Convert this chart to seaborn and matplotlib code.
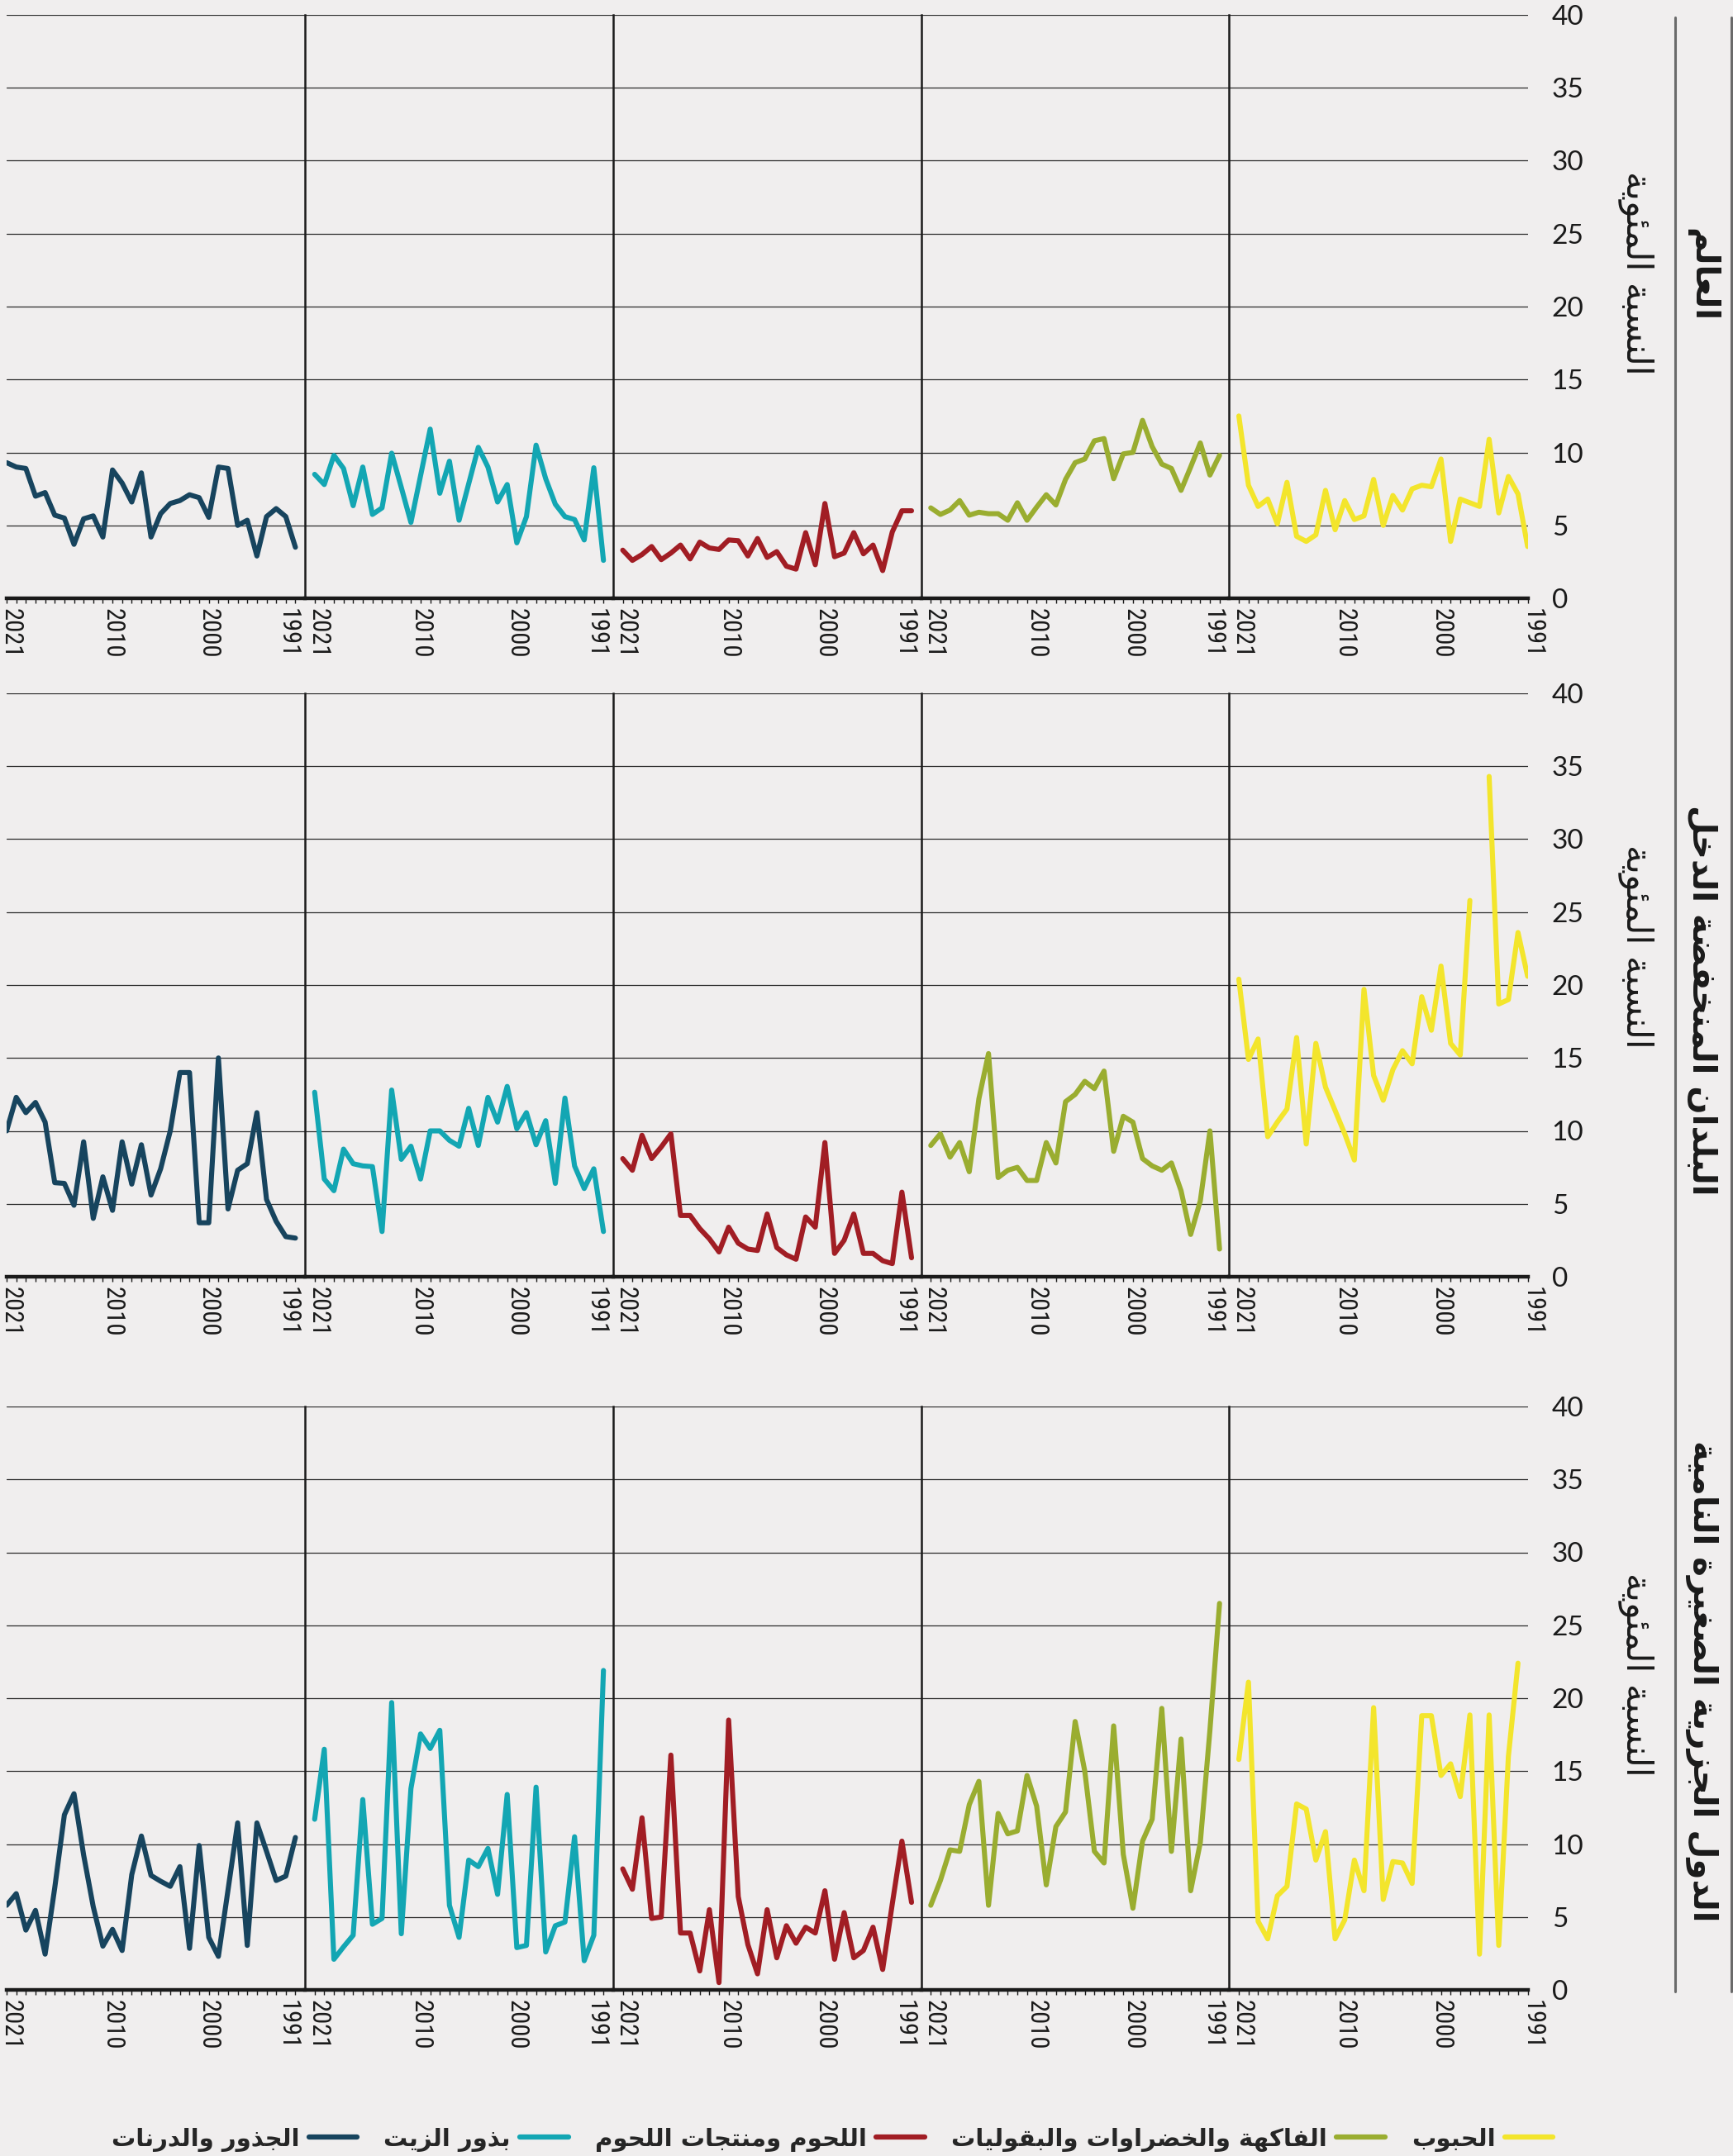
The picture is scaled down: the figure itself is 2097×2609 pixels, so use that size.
import numpy as np
import pandas as pd
import seaborn as sns
import matplotlib.pyplot as plt
from matplotlib import font_manager
from matplotlib.lines import Line2D
from matplotlib.transforms import ScaledTranslation

# years run right-to-left on every panel: 2021 ... 1991
years = list(range(2021, 1990, -1))

groups = ['الجذور والدرنات', 'بذور الزيت', 'اللحوم ومنتجات اللحوم',
          'الفاكهة والخضراوات والبقوليات', 'الحبوب']
colors = ['#17445e', '#13a6b3', '#a11d24', '#9aad30', '#f3e52c']
regions = ['العالم', 'البلدان المنخفضة الدخل', 'الدول الجزرية الصغيرة النامية']
y_label = 'النسبة المئوية'
x_ticks = [2021, 2010, 2000, 1991]
y_ticks = [0, 5, 10, 15, 20, 25, 30, 35, 40]

# World
world_roots = [9.3, 9.0, 8.9, 7.0, 7.25, 5.7, 5.5, 3.7, 5.45, 5.65, 4.2, 8.8, 7.9, 6.6, 8.6, 4.2,
               5.8, 6.5, 6.7, 7.1, 6.9, 5.55, 9.0, 8.9, 5.0, 5.35, 2.9, 5.6, 6.15, 5.6, 3.5]
world_oil = [8.5, 7.8, 9.8, 8.9, 6.35, 9.0, 5.75, 6.2, 9.95, 7.6, 5.2, 8.4, 11.6, 7.2, 9.4, 5.35,
             7.85, 10.35, 9.0, 6.6, 7.8, 3.8, 5.6, 10.5, 8.2, 6.45, 5.6, 5.4, 4.0, 8.95, 2.6]
world_meat = [3.3, 2.6, 3.0, 3.55, 2.65, 3.1, 3.65, 2.7, 3.85, 3.45, 3.35, 4.0, 3.95, 2.9, 4.1, 2.8,
              3.2, 2.2, 2.0, 4.5, 2.3, 6.5, 2.85, 3.1, 4.5, 3.05, 3.65, 1.9, 4.55, 6.0, 6.0]
world_fruit = [6.2, 5.75, 6.05, 6.7, 5.7, 5.9, 5.8, 5.8, 5.35, 6.55, 5.35, 6.25, 7.1, 6.4, 8.15, 9.3,
               9.55, 10.8, 10.95, 8.2, 9.9, 10.0, 12.2, 10.4, 9.2, 8.9, 7.4, 9.0, 10.65, 8.45, 9.8]
world_cereal = [12.5, 7.75, 6.3, 6.8, 5.1, 7.95, 4.25, 3.9, 4.35, 7.4, 4.7, 6.7, 5.4, 5.65, 8.15, 5.0,
                7.05, 6.05, 7.5, 7.75, 7.65, 9.55, 3.9, 6.8, 6.55, 6.3, 10.9, 5.85, 8.35, 7.15, 3.55]

# Low-income countries
lic_roots = [10.0, 12.3, 11.25, 11.95, 10.6, 6.45, 6.4, 4.9, 9.25, 4.0, 6.85, 4.55, 9.25, 6.35, 9.05, 5.6,
             7.4, 10.0, 14.0, 14.0, 3.7, 3.7, 15.0, 4.65, 7.3, 7.75, 11.25, 5.3, 3.8, 2.75, 2.65]
lic_oil = [12.65, 6.7, 5.9, 8.75, 7.75, 7.6, 7.55, 3.1, 12.8, 8.05, 8.95, 6.7, 10.0, 10.0, 9.35, 8.95,
           11.55, 9.0, 12.3, 10.6, 13.05, 10.15, 11.25, 9.05, 10.7, 6.4, 12.25, 7.6, 6.05, 7.4, 3.1]
lic_meat = [8.1, 7.3, 9.7, 8.1, 8.9, 9.8, 4.2, 4.2, 3.3, 2.6, 1.7, 3.4, 2.3, 1.9, 1.8, 4.3,
            2.0, 1.5, 1.2, 4.1, 3.4, 9.2, 1.6, 2.5, 4.3, 1.6, 1.6, 1.1, 0.9, 5.8, 1.3]
lic_fruit = [9.0, 9.8, 8.2, 9.2, 7.2, 12.2, 15.3, 6.8, 7.3, 7.5, 6.6, 6.6, 9.2, 7.8, 12.0, 12.5,
             13.4, 12.9, 14.1, 8.6, 11.0, 10.6, 8.1, 7.6, 7.3, 7.8, 5.9, 2.9, 5.2, 10.0, 1.9]
lic_cereal = [20.4, 14.9, 16.3, 9.6, 10.6, 11.5, 16.4, 9.1, 16.0, 13.0, 11.4, 9.8, 8.0, 19.7, 13.8, 12.1,
              14.2, 15.5, 14.6, 19.2, 16.9, 21.3, 16.0, 15.2, 25.8, np.nan, 34.3, 18.7, 19.0, 23.6, 20.6]

# Small island developing states
sids_roots = [5.8, 6.6, 4.1, 5.45, 2.45, 7.0, 12.0, 13.45, 9.25, 5.7, 3.0, 4.15, 2.7, 7.9, 10.55, 7.85,
              7.45, 7.1, 8.45, 2.85, 9.9, 3.6, 2.3, 6.85, 11.45, 3.05, 11.45, 9.5, 7.5, 7.8, 10.45]
sids_oil = [11.7, 16.5, 2.1, 2.95, 3.75, 13.05, 4.5, 4.9, 19.7, 3.85, 13.8, 17.55, 16.55, 17.8, 5.8, 3.6,
            8.9, 8.45, 9.7, 6.55, 13.4, 2.9, 3.05, 13.9, 2.6, 4.4, 4.65, 10.5, 2.0, 3.75, 21.9]
sids_meat = [8.3, 6.9, 11.8, 4.9, 5.0, 16.1, 3.9, 3.9, 1.3, 5.5, 0.5, 18.5, 6.4, 3.1, 1.1, 5.5,
             2.2, 4.4, 3.2, 4.3, 3.9, 6.8, 2.1, 5.3, 2.2, 2.7, 4.3, 1.4, 5.9, 10.2, 6.0]
sids_fruit = [5.8, 7.5, 9.6, 9.5, 12.7, 14.3, 5.8, 12.1, 10.7, 10.9, 14.7, 12.6, 7.2, 11.2, 12.2, 18.4,
              15.0, 9.5, 8.7, 18.1, 9.3, 5.6, 10.2, 11.7, 19.3, 9.5, 17.2, 6.8, 10.1, 17.8, 26.5]
sids_cereal = [15.8, 21.1, 4.7, 3.5, 6.45, 7.1, 12.75, 12.4, 8.9, 10.85, 3.5, 4.8, 8.9, 6.8, 19.35, 6.2,
               8.8, 8.7, 7.3, 18.8, 18.8, 14.7, 15.5, 13.25, 18.85, 2.45, 18.85, 3.05, 16.0, 22.4, np.nan]

rows = [
    [world_roots, world_oil, world_meat, world_fruit, world_cereal],
    [lic_roots, lic_oil, lic_meat, lic_fruit, lic_cereal],
    [sids_roots, sids_oil, sids_meat, sids_fruit, sids_cereal],
]

# Arabic shaping (matplotlib has no complex text layout): presentation forms + visual order
FORMS = {
    'ء': (0xFE80, 1), 'آ': (0xFE81, 2), 'أ': (0xFE83, 2), 'ؤ': (0xFE85, 2), 'إ': (0xFE87, 2),
    'ئ': (0xFE89, 4), 'ا': (0xFE8D, 2), 'ب': (0xFE8F, 4), 'ة': (0xFE93, 2), 'ت': (0xFE95, 4),
    'ث': (0xFE99, 4), 'ج': (0xFE9D, 4), 'ح': (0xFEA1, 4), 'خ': (0xFEA5, 4), 'د': (0xFEA9, 2),
    'ذ': (0xFEAB, 2), 'ر': (0xFEAD, 2), 'ز': (0xFEAF, 2), 'س': (0xFEB1, 4), 'ش': (0xFEB5, 4),
    'ص': (0xFEB9, 4), 'ض': (0xFEBD, 4), 'ط': (0xFEC1, 4), 'ظ': (0xFEC5, 4), 'ع': (0xFEC9, 4),
    'غ': (0xFECD, 4), 'ف': (0xFED1, 4), 'ق': (0xFED5, 4), 'ك': (0xFED9, 4), 'ل': (0xFEDD, 4),
    'م': (0xFEE1, 4), 'ن': (0xFEE5, 4), 'ه': (0xFEE9, 4), 'و': (0xFEED, 2), 'ى': (0xFEEF, 2),
    'ي': (0xFEF1, 4),
}


def ar(text):
    out = []
    n = len(text)
    for i, c in enumerate(text):
        if c not in FORMS:
            out.append(c)
            continue
        base, k = FORMS[c]
        prev = text[i - 1] if i > 0 else ''
        nxt = text[i + 1] if i + 1 < n else ''
        join_prev = prev in FORMS and FORMS[prev][1] == 4
        join_next = k == 4 and nxt in FORMS and FORMS[nxt][1] > 1
        if k == 1:
            f = 0
        elif join_prev and join_next:
            f = 3
        elif join_prev:
            f = 1
        elif join_next:
            f = 2
        else:
            f = 0
        out.append(chr(base + f))
    return ''.join(reversed(out))


def pick(*names):
    have = {f.name for f in font_manager.fontManager.ttflist}
    for nm in names:
        if nm in have:
            return nm
    return 'DejaVu Sans'


bg = '#f0eeee'
sns.set_style('white', {'axes.facecolor': 'none', 'figure.facecolor': bg})
plt.rcParams['font.family'] = ['DejaVu Sans']
num_font = pick('Roboto Condensed', 'Liberation Sans Narrow', 'DejaVu Sans Condensed', 'Roboto')
ytick_font = pick('Lato', 'Noto Sans')

W, H = 2097, 2609
fig = plt.figure(figsize=(W / 100, H / 100), dpi=100, facecolor=bg)


def box(x0, y0, w, h):
    return [x0 / W, 1 - (y0 + h) / H, w / W, h / H]


def nudge(label, dx_px):
    label.set_transform(label.get_transform() + ScaledTranslation(dx_px / 100, 0, fig.dpi_scale_trans))


px_year = 372.75 / 32
lefts = [8, 369.1, 741.9, 1114.6, 1487.4]
xlims = [(2021, 1990), (2022, 1990), (2022, 1990), (2022, 1990), (2022, 1991)]
row_tops = [18, 839, 1702]
row_h = 706

for r, row in enumerate(rows):
    for p, vals in enumerate(row):
        lo, hi = xlims[p]
        ax = fig.add_axes(box(lefts[p], row_tops[r], (lo - hi) * px_year, row_h))
        v = pd.Series(vals, dtype=float)
        df = pd.DataFrame({'year': years, 'value': v, 'seg': v.isna().cumsum()}).dropna()
        sns.lineplot(data=df, x='year', y='value', units='seg', estimator=None,
                     color=colors[p], lw=4.4, ax=ax, solid_joinstyle='round',
                     solid_capstyle='round', zorder=3)
        ax.set_xlim(lo, hi)
        ax.set_ylim(0, 40)
        ax.set_xlabel('')
        ax.set_ylabel('')
        ax.set_yticks(y_ticks)
        ax.yaxis.grid(True, color='#2a2a2a', lw=0.9)
        ax.xaxis.grid(False)
        ax.set_axisbelow(True)
        ax.set_xticks(x_ticks)
        ax.set_xticks(years, minor=True)
        labels = ax.set_xticklabels([str(t) for t in x_ticks], rotation=-90,
                                    fontfamily=num_font, fontsize=22, color='#1a1a1a')
        ax.tick_params(axis='x', which='both', direction='out', length=4.5, width=1,
                       color='#1a1a1a', bottom=True, pad=4)
        # pull the paired 1991 | 2021 labels apart at the panel joins
        nudge(labels[0], 5 if p == 0 else 4)
        nudge(labels[3], 6 if p == 4 else -9)
        for s in ['top', 'right']:
            ax.spines[s].set_visible(False)
        ax.spines['bottom'].set_linewidth(3.2)
        ax.spines['bottom'].set_color('#1a1a1a')
        if p == 0:
            ax.spines['left'].set_visible(False)
        else:
            ax.spines['left'].set_linewidth(1.8)
            ax.spines['left'].set_color('#1a1a1a')
        if p == 4:
            ax.yaxis.tick_right()
            ax.tick_params(axis='y', length=0, pad=21, labelright=True, labelleft=False)
            for lab in ax.get_yticklabels():
                lab.set_fontfamily(ytick_font)
                lab.set_fontsize(24)
                lab.set_color('#1a1a1a')
                lab.set_ha('left')
        else:
            ax.tick_params(axis='y', left=False, right=False, labelleft=False)

# side labels
label_y = [330, 1145, 2026]
region_y = [333, 1210, 2034]
for r in range(3):
    fig.text(1980 / W, 1 - label_y[r] / H, ar(y_label), rotation=-90, ha='center', va='center',
             fontsize=31, color='#1a1a1a')
    fig.text(2059 / W, 1 - region_y[r] / H, ar(regions[r]), rotation=-90, ha='center',
             va='center', fontsize=29, fontweight='bold', color='#1a1a1a')

for xp in [2027, 2095]:
    fig.add_artist(Line2D([xp / W, xp / W], [1 - 21 / H, 1 - 2410 / H], color='#6a6a6a', lw=2.2))

handles = [Line2D([0], [0], color=c, lw=4.5, solid_capstyle='round') for c in colors]
fig.legend(handles, [ar(g) for g in groups], loc='center', bbox_to_anchor=(1007 / W, 1 - 2589 / H),
           ncol=5, markerfirst=False, frameon=False,
           prop={'weight': 'bold', 'size': 21}, handlelength=2.0, handletextpad=0.4,
           columnspacing=1.1)

fig.savefig('out.png', dpi=100, facecolor=bg)
